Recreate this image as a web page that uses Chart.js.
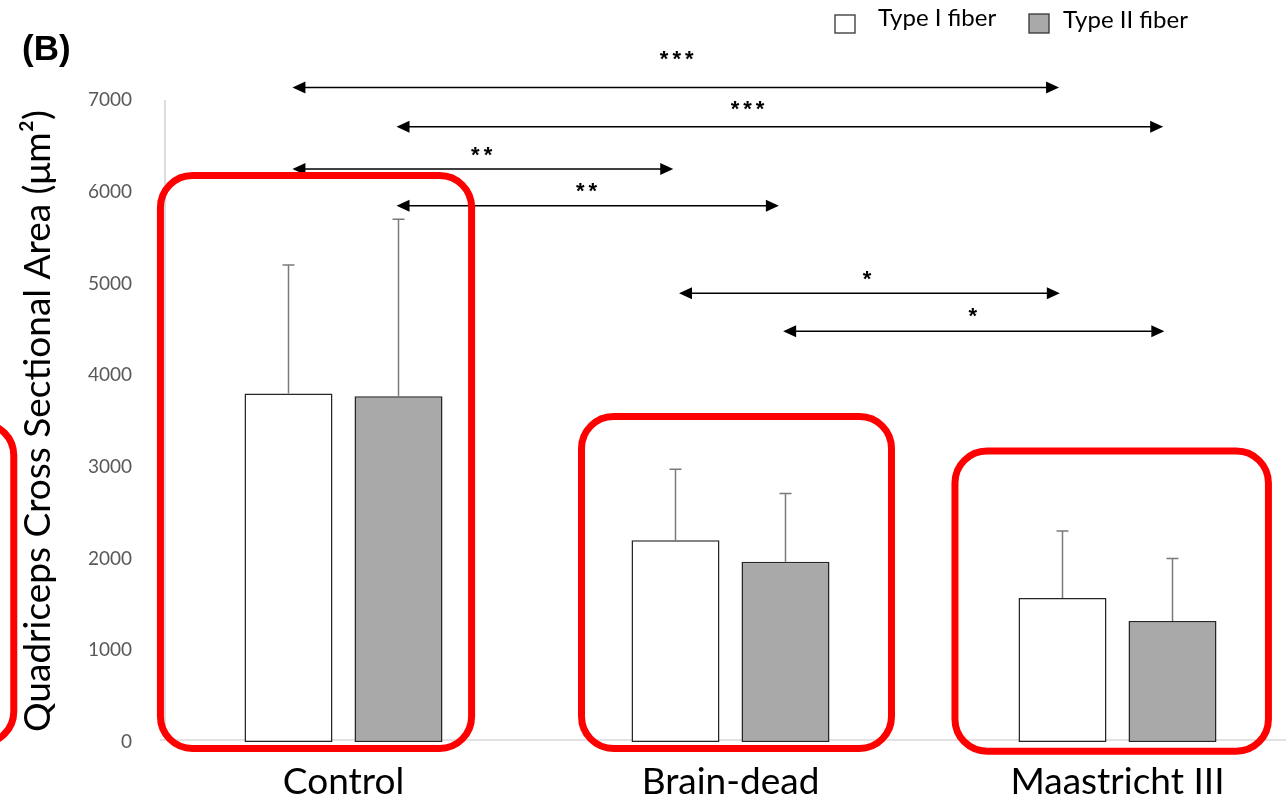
<!DOCTYPE html>
<html>
<head>
<meta charset="utf-8">
<script src="https://cdn.jsdelivr.net/npm/chart.js@4.4.1/dist/chart.umd.min.js"></script>
<style>
  html, body { margin: 0; padding: 0; background: #fff; overflow: hidden; }
  #wrap { width: 1311px; height: 801px; }
</style>
</head>
<body>
<div id="wrap"><canvas id="grafico" width="1311" height="801"></canvas></div>
<script>
// dados
const categorias = ["Control", "Brain-dead", "Maastricht III"];
const tipoI = [3800, 2200, 1570];
const tipoII = [3770, 1965, 1320];
const tipoIDp = [1400, 775, 730];
const tipoIIDp = [1930, 745, 680];
const ticksY = [0, 1000, 2000, 3000, 4000, 5000, 6000, 7000];

// setas de significância: x em unidades de categoria, y em µm²
const setas = [
  { de: -0.132, ate: 1.849, y: 7137, txt: "***", tx: 0.861, ty: 7480 },
  { de: 0.137, ate: 2.118, y: 6708, txt: "***", tx: 1.044, ty: 6935 },
  { de: -0.132, ate: 0.852, y: 6248, txt: "**", tx: 0.357, ty: 6437 },
  { de: 0.137, ate: 1.125, y: 5848, txt: "**", tx: 0.628, ty: 6037 },
  { de: 0.867, ate: 1.851, y: 4893, txt: "*", tx: 1.353, ty: 5081 },
  { de: 1.136, ate: 2.121, y: 4479, txt: "*", tx: 1.626, ty: 4675 }
];

// caixas vermelhas de destaque
const caixas = [
  { x1: -1.04, x2: -0.852, y1: 3473, y2: -16 },
  { x1: -0.473, x2: 0.331, y1: 6177, y2: -71 },
  { x1: 0.615, x2: 1.416, y1: 3549, y2: -71 },
  { x1: 1.580, x2: 2.390, y1: 3173, y2: -100 }
];

const extras = {
  id: "extras",
  beforeDatasetsDraw(chart) {
    const ctx = chart.ctx, ys = chart.scales.y, area = chart.chartArea;
    ctx.save();
    ctx.strokeStyle = "#c6c6c6";
    ctx.lineWidth = 1.2;
    ctx.beginPath();
    ctx.moveTo(area.left + 15, ys.getPixelForValue(7000));
    ctx.lineTo(area.left + 15, ys.getPixelForValue(0) - 2);
    ctx.moveTo(area.left + 10, ys.getPixelForValue(0) - 2);
    ctx.lineTo(area.right, ys.getPixelForValue(0) - 2);
    ctx.stroke();
    ctx.restore();
  },
  afterDatasetsDraw(chart) {
    const ctx = chart.ctx, xs = chart.scales.x, ys = chart.scales.y;
    ctx.save();

    // barras de erro
    [tipoIDp, tipoIIDp].forEach((dp, d) => {
      const meta = chart.getDatasetMeta(d);
      const vals = chart.data.datasets[d].data;
      meta.data.forEach((bar, i) => {
        const yt = ys.getPixelForValue(vals[i] + dp[i]);
        ctx.strokeStyle = "#7a7a7a";
        ctx.lineWidth = 1.5;
        ctx.beginPath();
        ctx.moveTo(bar.x, bar.y);
        ctx.lineTo(bar.x, yt);
        ctx.moveTo(bar.x - 6, yt);
        ctx.lineTo(bar.x + 6, yt);
        ctx.stroke();
      });
    });

    // setas
    setas.forEach(s => {
      const x1 = xs.getPixelForValue(s.de), x2 = xs.getPixelForValue(s.ate);
      const y = ys.getPixelForValue(s.y);
      ctx.strokeStyle = "#000";
      ctx.fillStyle = "#000";
      ctx.lineWidth = 1.5;
      ctx.beginPath();
      ctx.moveTo(x1 + 6, y);
      ctx.lineTo(x2 - 6, y);
      ctx.stroke();
      ctx.beginPath();
      ctx.moveTo(x1, y); ctx.lineTo(x1 + 13, y - 6); ctx.lineTo(x1 + 13, y + 6); ctx.closePath();
      ctx.moveTo(x2, y); ctx.lineTo(x2 - 13, y - 6); ctx.lineTo(x2 - 13, y + 6); ctx.closePath();
      ctx.fill();
      ctx.font = "bold 22px 'Liberation Sans'";
      ctx.letterSpacing = "4px";
      ctx.textAlign = "center";
      ctx.textBaseline = "middle";
      ctx.fillText(s.txt, xs.getPixelForValue(s.tx) + 2, ys.getPixelForValue(s.ty) + 4);
      ctx.letterSpacing = "0px";
    });

    // legenda
    ctx.lineWidth = 1.3;
    ctx.strokeStyle = "#333";
    ctx.fillStyle = "#fff";
    ctx.fillRect(835, 15, 20, 18);
    ctx.strokeRect(835, 15, 20, 18);
    ctx.fillStyle = "#a9a9a9";
    ctx.fillRect(1029, 14, 20, 19);
    ctx.strokeRect(1029, 14, 20, 19);
    ctx.fillStyle = "#000";
    ctx.font = "24px Lato";
    ctx.textAlign = "left";
    ctx.textBaseline = "alphabetic";
    ctx.fillText("Type I fiber", 878, 26);
    ctx.fillText("Type II fiber", 1063, 28);

    // rótulo do painel
    ctx.font = "bold 35px 'Liberation Sans'";
    ctx.fillText("(B)", 22, 60);

    // caixas vermelhas
    ctx.strokeStyle = "#ff0000";
    ctx.lineWidth = 7;
    caixas.forEach(c => {
      const x1 = xs.getPixelForValue(c.x1), x2 = xs.getPixelForValue(c.x2);
      const y1 = ys.getPixelForValue(c.y1), y2 = ys.getPixelForValue(c.y2);
      ctx.beginPath();
      ctx.roundRect(x1, y1, x2 - x1, y2 - y1, 32);
      ctx.stroke();
    });
    ctx.restore();
  }
};

const grafico = new Chart(document.getElementById("grafico").getContext("2d"), {
  type: "bar",
  data: {
    labels: categorias,
    datasets: [
      { label: "Type I fiber", data: tipoI, backgroundColor: "#ffffff", borderColor: "#262626",
        borderWidth: 1.5, borderSkipped: false, categoryPercentage: 0.5685, barPercentage: 0.8 },
      { label: "Type II fiber", data: tipoII, backgroundColor: "#a9a9a9", borderColor: "#262626",
        borderWidth: 1.5, borderSkipped: false, categoryPercentage: 0.5685, barPercentage: 0.8 }
    ]
  },
  options: {
    responsive: false,
    animation: false,
    devicePixelRatio: 1,
    layout: { padding: { top: 100, left: 0, right: 0, bottom: 0 } },
    plugins: { legend: { display: false }, tooltip: { enabled: false } },
    scales: {
      x: {
        grid: { display: false, drawTicks: false },
        border: { display: false },
        ticks: { color: "#000", font: { family: "Lato", size: 37 }, padding: 18 },
        afterFit: s => { s.height = 59; }
      },
      y: {
        min: 0, max: 7000,
        afterBuildTicks: s => { s.ticks = ticksY.map(v => ({ value: v })); },
        grid: { display: false, drawTicks: false },
        border: { display: false },
        ticks: { color: "#595959", font: { family: "Lato", size: 19 }, padding: 18, callback: v => String(v) },
        title: { display: true, text: "Quadriceps Cross Sectional Area (μm²)", color: "#000",
          font: { family: "Lato", size: 37 }, padding: { top: 16, bottom: 0 } },
        afterFit: s => { s.width = 150; }
      }
    }
  },
  plugins: [extras]
});
</script>
</body>
</html>
